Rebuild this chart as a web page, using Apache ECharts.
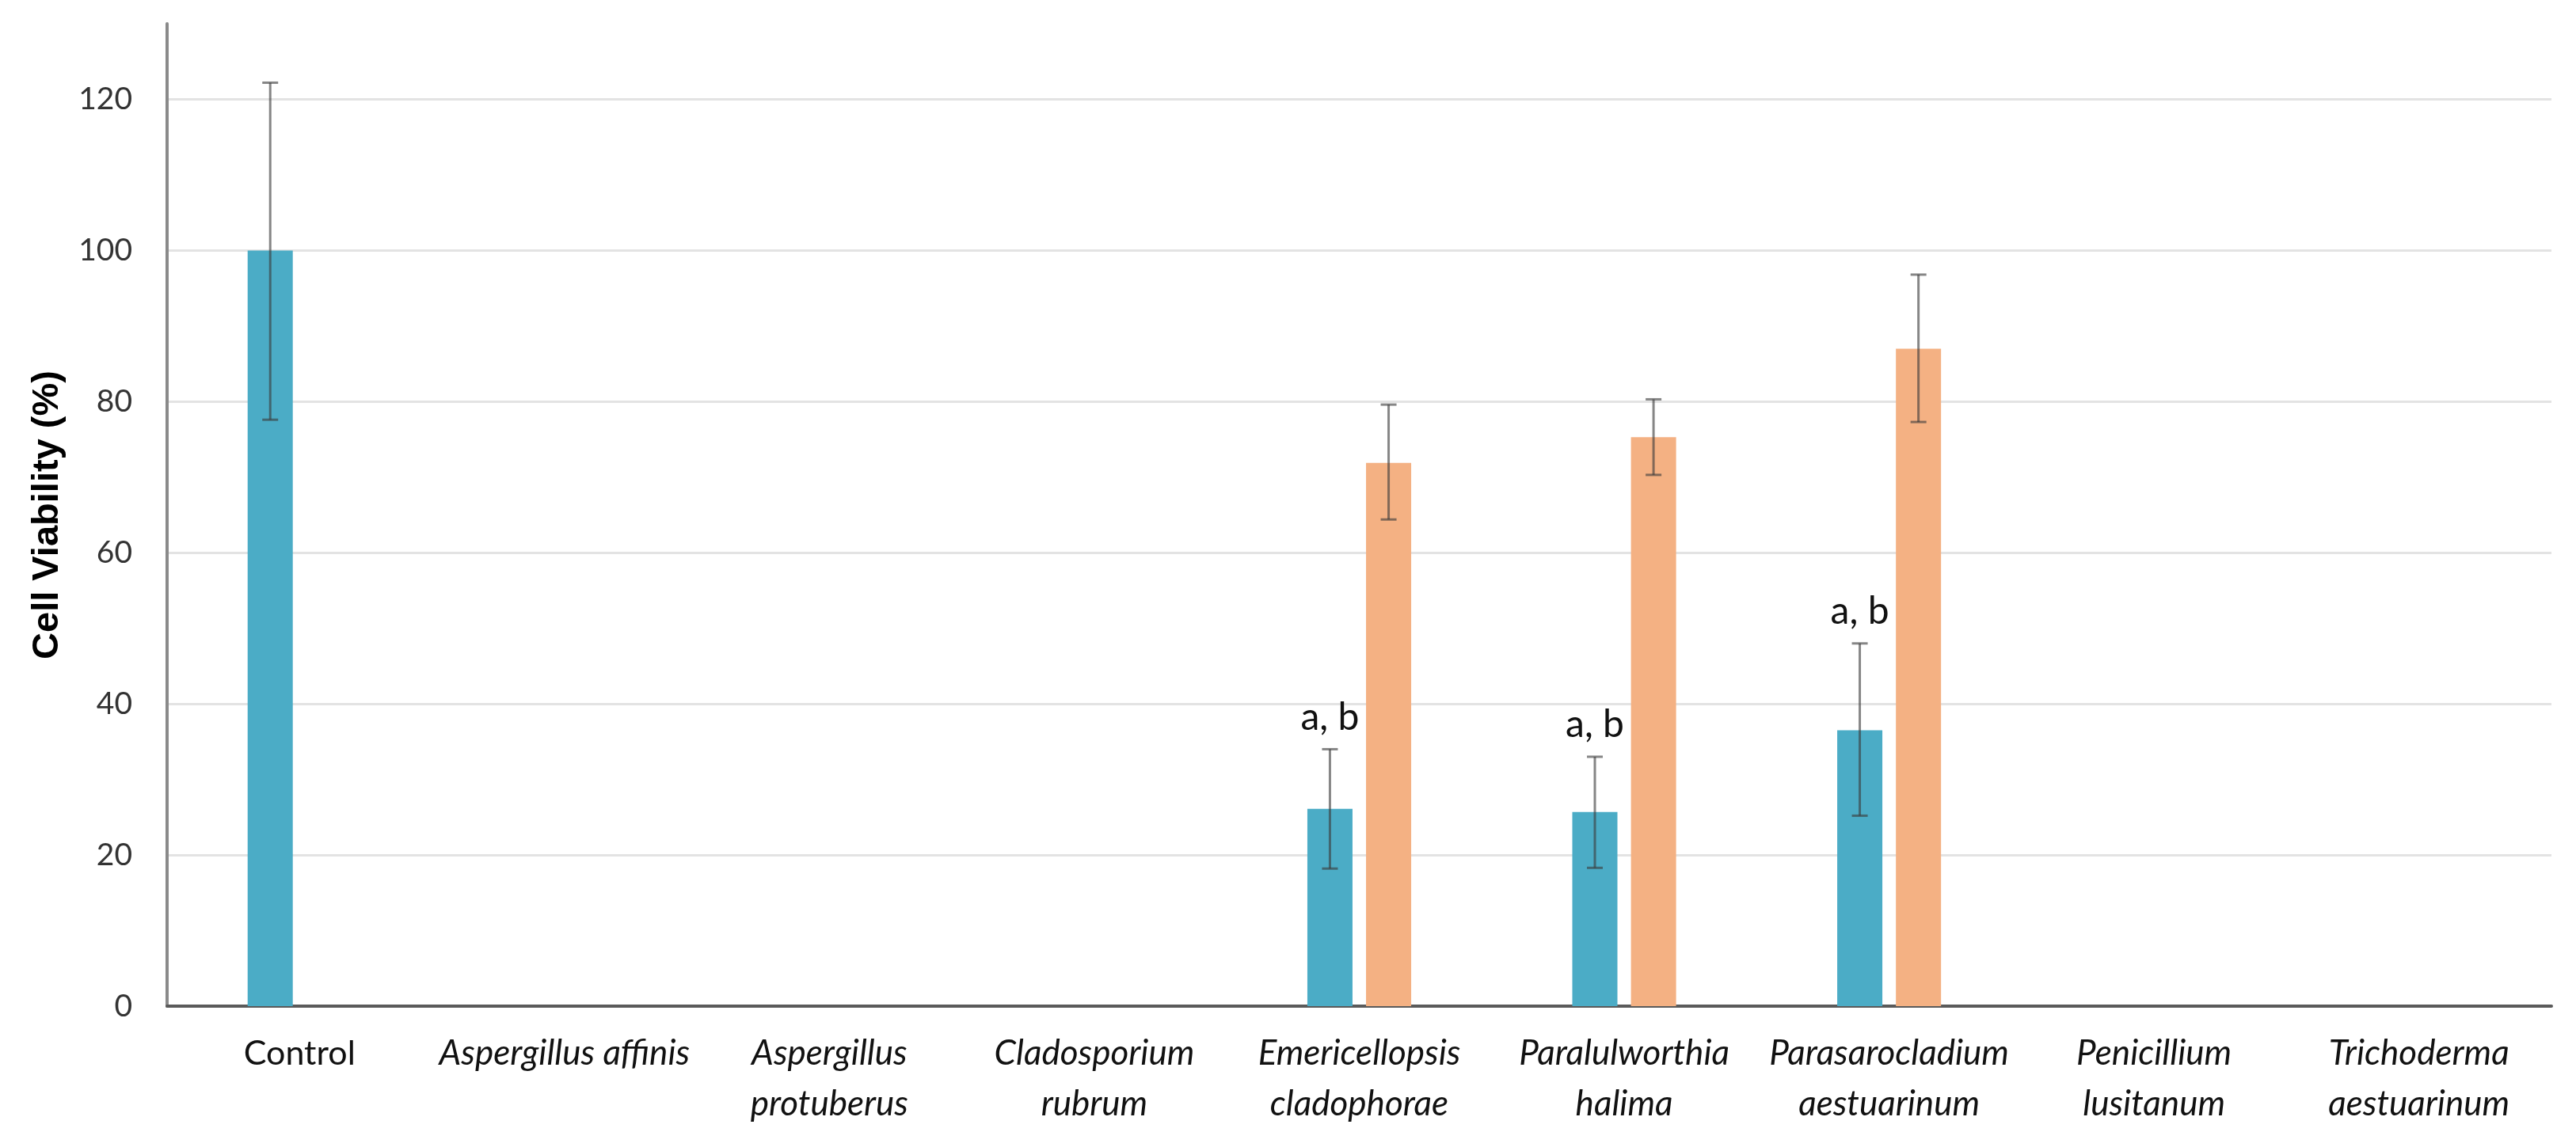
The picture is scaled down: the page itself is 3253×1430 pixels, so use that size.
<!DOCTYPE html>
<html>
<head>
<meta charset="utf-8">
<script src="https://cdn.jsdelivr.net/npm/echarts@6/dist/echarts.min.js"></script>
<style>
  html, body { margin: 0; padding: 0; background: #ffffff; }
  #chart { width: 3253px; height: 1430px; }
</style>
</head>
<body>
<div id="chart"></div>
<script>
// ---- data ----
const categories = [
  'Control',
  'Aspergillus affinis',
  'Aspergillus\nprotuberus',
  'Cladosporium\nrubrum',
  'Emericellopsis\ncladophorae',
  'Paralulworthia\nhalima',
  'Parasarocladium\naestuarinum',
  'Penicillium\nlusitanum',
  'Trichoderma\naestuarinum'
];
const yTicks = [0, 20, 40, 60, 80, 100, 120];
const series1Values = [100, null, null, null, 26.1, 25.7, 36.5, null, null];
const series1Low    = [77.6, null, null, null, 18.2, 18.3, 25.2, null, null];
const series1High   = [122.2, null, null, null, 34.0, 33.0, 48.0, null, null];
const series2Values = [null, null, null, null, 71.9, 75.3, 87.0, null, null];
const series2Low    = [null, null, null, null, 64.4, 70.3, 77.3, null, null];
const series2High   = [null, null, null, null, 79.6, 80.3, 96.8, null, null];
const sigLabels     = ['', '', '', '', 'a, b', 'a, b', 'a, b', '', ''];

// ---- styles ----
const BAR_W = 57;
const GAP_RATIO = 0.3;
const OFFSET = BAR_W * (1 + GAP_RATIO) / 2;
const BLUE = '#4BACC6';
const ORANGE = '#F4B183';
const ERR = 'rgba(60,60,60,0.62)';

function errData(low, high) {
  const out = [];
  low.forEach((l, i) => { if (l != null) out.push([i, l, high[i]]); });
  return out;
}

function errRender(sign, withLabel) {
  return function (params, api) {
    const idx = api.value(0);
    const lo = api.coord([idx, api.value(1)]);
    const hi = api.coord([idx, api.value(2)]);
    const x = lo[0] + sign * OFFSET;
    const cap = 10;
    const style = { stroke: ERR, lineWidth: 3 };
    const children = [
      { type: 'line', shape: { x1: x, y1: lo[1], x2: x, y2: hi[1] }, style: style },
      { type: 'line', shape: { x1: x - cap, y1: lo[1], x2: x + cap, y2: lo[1] }, style: style },
      { type: 'line', shape: { x1: x - cap, y1: hi[1], x2: x + cap, y2: hi[1] }, style: style }
    ];
    if (withLabel && sigLabels[idx]) {
      children.push({
        type: 'text',
        style: {
          text: sigLabels[idx], x: x, y: hi[1] - 16,
          textAlign: 'center', textVerticalAlign: 'bottom',
          fontFamily: 'Lato', fontSize: 48, fill: '#111'
        }
      });
    }
    return { type: 'group', children: children };
  };
}

const chart = echarts.init(document.getElementById('chart'), null, { renderer: 'canvas' });
chart.setOption({
  backgroundColor: '#ffffff',
  animation: false,
  grid: { left: 211, right: 31, top: 30, bottom: 159, containLabel: false, outerBoundsMode: 'none' },
  xAxis: {
    type: 'category',
    data: categories,
    axisTick: { show: false },
    axisLine: { lineStyle: { color: '#5a5a5a', width: 4 } },
    axisLabel: {
      interval: 0,
      margin: 28,
      fontFamily: 'Lato',
      fontSize: 44,
      fontStyle: 'italic',
      color: '#111',
      lineHeight: 64,
      formatter: function (v) { return v === 'Control' ? '{n|' + v + '}' : v; },
      rich: { n: { fontStyle: 'normal', fontFamily: 'Lato', fontSize: 43, color: '#111', lineHeight: 64 } }
    }
  },
  yAxis: {
    type: 'value',
    min: 0, max: 130, interval: 20,
    name: 'Cell Viability (%)',
    nameLocation: 'middle',
    nameGap: 127,
    nameTextStyle: { fontFamily: 'Liberation Sans', fontWeight: 'bold', fontSize: 47, color: '#000' },
    axisLine: { show: true, lineStyle: { color: '#8a8a8a', width: 4 } },
    axisTick: { show: false },
    axisLabel: {
      margin: 44, fontFamily: 'Lato', fontSize: 39, color: '#333', showMaxLabel: false,
      formatter: function (v) { return yTicks.indexOf(v) >= 0 ? String(v) : ''; }
    },
    splitLine: { show: true, showMaxLine: false, lineStyle: { color: '#e3e3e3', width: 3 } }
  },
  series: [
    { type: 'bar', data: series1Values, barWidth: BAR_W, barGap: (GAP_RATIO * 100) + '%',
      itemStyle: { color: BLUE }, z: 2 },
    { type: 'bar', data: series2Values, barWidth: BAR_W, barGap: (GAP_RATIO * 100) + '%',
      itemStyle: { color: ORANGE }, z: 2 },
    { type: 'custom', data: errData(series1Low, series1High), renderItem: errRender(-1, true), z: 5, silent: true },
    { type: 'custom', data: errData(series2Low, series2High), renderItem: errRender(1, false), z: 5, silent: true }
  ]
});
</script>
</body>
</html>
